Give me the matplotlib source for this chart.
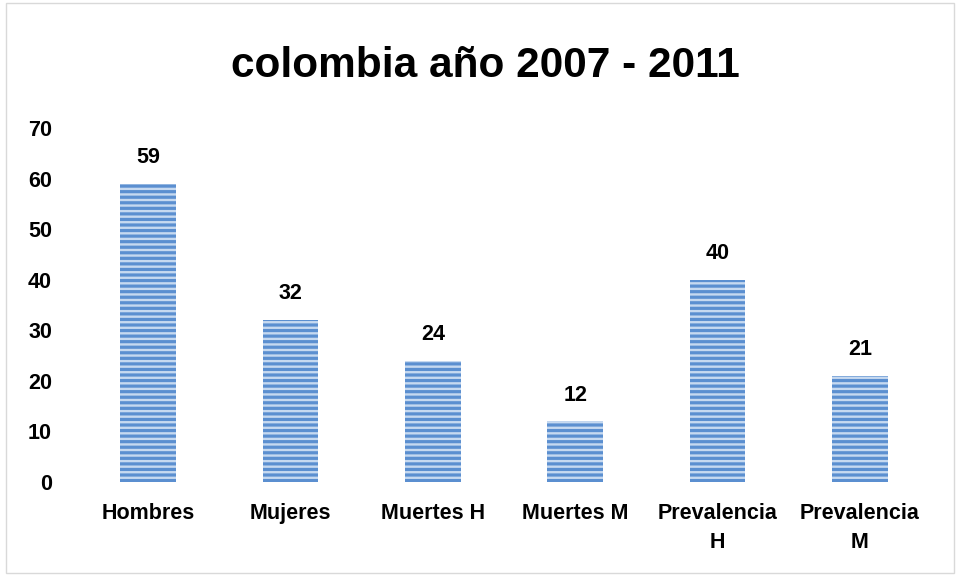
import matplotlib.pyplot as plt
from matplotlib.patches import Rectangle

categories = ['Hombres', 'Mujeres', 'Muertes H', 'Muertes M', 'Prevalencia\nH', 'Prevalencia\nM']
values = [59, 32, 24, 12, 40, 21]

plt.rcParams['font.family'] = ['Liberation Sans', 'DejaVu Sans']
plt.rcParams['hatch.linewidth'] = 2.3

fig = plt.figure(figsize=(9.58, 5.75), dpi=100)
fig.patches.append(Rectangle((0.006, 0.004), 0.99, 0.99, transform=fig.transFigure,
                             fill=False, edgecolor='#d9d9d9', linewidth=1))
ax = fig.add_axes([0.0804, 0.1617, 0.8914, 0.6157])

x = range(len(categories))
bars = ax.bar(x, values, width=0.39, color='#c6d9f0', edgecolor='#5b8fd0',
              hatch='---', linewidth=0)

# value labels above each bar
for xi, v in zip(x, values):
    ax.text(xi, v + 4.1, str(v), ha='center', va='baseline', fontsize=15.5, fontweight='bold')

ax.set_xlim(-0.5, len(categories) - 0.5)
ax.set_ylim(0, 70)
ax.set_yticks(range(0, 71, 10))
ax.set_xticks(list(x))
ax.set_xticklabels(categories, fontsize=15.5, fontweight='bold', linespacing=1.5, va='top')
for lbl in ax.get_yticklabels():
    lbl.set_fontsize(15.5)
    lbl.set_fontweight('bold')
ax.tick_params(axis='both', length=0)
ax.tick_params(axis='y', pad=18)
ax.tick_params(axis='x', pad=15)
for s in ax.spines.values():
    s.set_visible(False)

fig.text(0.507, 0.866, 'colombia año 2007 - 2011', ha='center', va='baseline',
         fontsize=30.5, fontweight='bold')

fig.savefig('out.png', dpi=100)
